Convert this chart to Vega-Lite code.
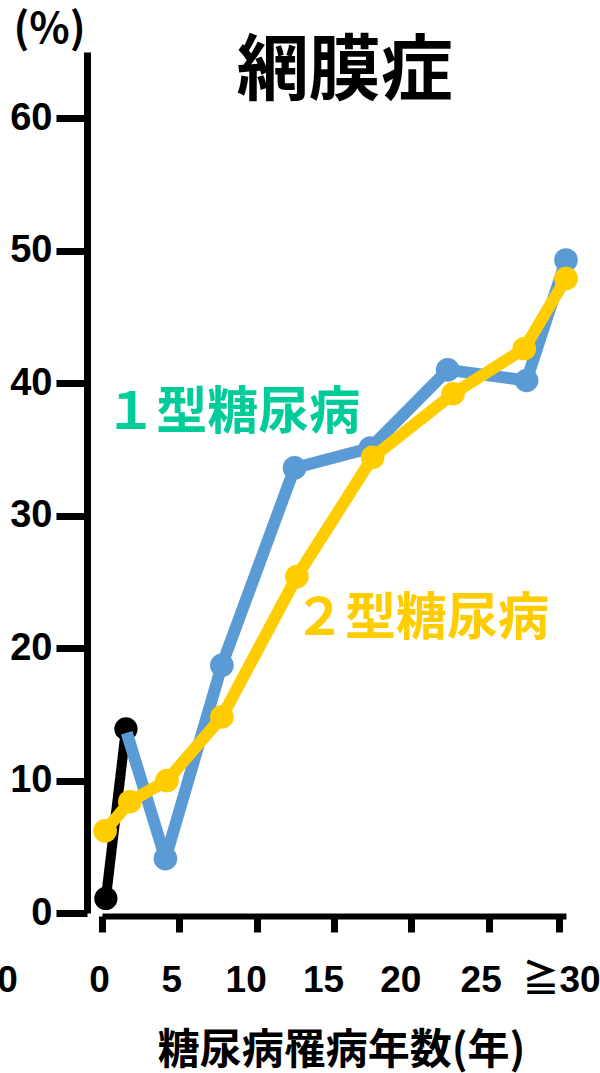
{
  "$schema": "https://vega.github.io/schema/vega-lite/v6.json",
  "width": 464,
  "height": 861,
  "autosize": {"type": "none"},
  "padding": {"left": 102, "top": 52, "right": 34, "bottom": 160},
  "background": "white",
  "config": {"view": {"stroke": null}, "font": "Noto Sans CJK JP"},
  "datasets": {
    "rates": [
      {"group": "early", "x": 0.25, "y": 1.1},
      {"group": "early", "x": 1.55, "y": 13.9},
      {"group": "type1", "x": 1.6, "y": 13.6},
      {"group": "type1", "x": 4.1, "y": 4.1},
      {"group": "type1", "x": 7.75, "y": 18.7},
      {"group": "type1", "x": 12.45, "y": 33.6},
      {"group": "type1", "x": 17.35, "y": 35.1},
      {"group": "type1", "x": 22.35, "y": 41.0},
      {"group": "type1", "x": 27.45, "y": 40.2},
      {"group": "type1", "x": 30.0, "y": 49.3},
      {"group": "type2", "x": 0.2, "y": 6.2},
      {"group": "type2", "x": 1.8, "y": 8.4},
      {"group": "type2", "x": 4.2, "y": 10.0},
      {"group": "type2", "x": 7.75, "y": 14.8},
      {"group": "type2", "x": 12.6, "y": 25.4},
      {"group": "type2", "x": 17.5, "y": 34.4},
      {"group": "type2", "x": 22.7, "y": 39.2},
      {"group": "type2", "x": 27.3, "y": 42.6},
      {"group": "type2", "x": 30.0, "y": 47.9}
    ],
    "notes": [
      {"kind": "series", "label": "１型糖尿病", "x": 8.45, "y": 37.7},
      {"kind": "series", "label": "２型糖尿病", "x": 20.65, "y": 22.1},
      {"kind": "heading", "label": "網膜症", "x": 15.7, "y": 63.5},
      {"kind": "tick", "label": "0", "x": -6.1, "y": -5.1}
    ]
  },
  "data": {"name": "rates"},
  "encoding": {
    "x": {
      "field": "x",
      "type": "quantitative",
      "scale": {"domain": [0, 30], "nice": false, "zero": false},
      "axis": {
        "title": "糖尿病罹病年数(年)",
        "values": [0, 5, 10, 15, 20, 25, 29.55],
        "labelExpr": "datum.value > 29 ? '≧30' : datum.label",
        "grid": false,
        "offset": 3,
        "domainColor": "black",
        "domainWidth": 6,
        "tickColor": "black",
        "tickWidth": 7,
        "tickSize": 16,
        "labelOffset": {
          "condition": [
            {"test": "datum.value == 0", "value": -3},
            {"test": "datum.value == 5 || datum.value == 25", "value": -8},
            {"test": "datum.value > 29", "value": 2}
          ],
          "value": -11
        },
        "labelFont": "Liberation Sans, Noto Sans CJK JP",
        "labelFontSize": 37,
        "labelFontWeight": "bold",
        "labelColor": "black",
        "labelPadding": 30,
        "labelOverlap": false,
        "labelBound": false,
        "labelFlush": false,
        "titleFont": "Noto Sans CJK JP",
        "titleFontSize": 42,
        "titleFontWeight": "bold",
        "titleColor": "black",
        "titleX": 239,
        "titleY": 134,
        "titleAlign": "center",
        "titleBaseline": "middle"
      }
    },
    "y": {
      "field": "y",
      "type": "quantitative",
      "scale": {"domain": [0, 65], "nice": false, "zero": false},
      "axis": {
        "title": "(%)",
        "values": [0, 10, 20, 30, 40, 50, 60],
        "grid": false,
        "offset": 15,
        "domainColor": "black",
        "domainWidth": 7,
        "tickColor": "black",
        "tickWidth": 7,
        "tickSize": 31,
        "labelFont": "Liberation Sans",
        "labelFontSize": 38,
        "labelFontWeight": "bold",
        "labelColor": "black",
        "labelPadding": 4,
        "labelOverlap": false,
        "labelBound": false,
        "titleFont": "Noto Sans CJK JP",
        "titleFontSize": 42,
        "titleFontWeight": "bold",
        "titleColor": "black",
        "titleAngle": 0,
        "titleX": -38,
        "titleY": -23,
        "titleAlign": "center",
        "titleBaseline": "middle"
      }
    }
  },
  "layer": [
    {
      "transform": [{"filter": "datum.group == 'early'"}],
      "mark": {"type": "line", "color": "black", "strokeWidth": 10, "strokeJoin": "round"}
    },
    {
      "transform": [{"filter": "datum.group == 'early'"}],
      "mark": {"type": "point", "shape": "circle", "filled": true, "opacity": 1, "color": "black", "size": 540}
    },
    {
      "transform": [{"filter": "datum.group == 'type1'"}],
      "mark": {"type": "line", "color": "#5B9BD5", "strokeWidth": 12, "strokeJoin": "round"}
    },
    {
      "transform": [{"filter": "datum.group == 'type1' && datum.x > 2"}],
      "mark": {"type": "point", "shape": "circle", "filled": true, "opacity": 1, "color": "#5B9BD5", "size": 560}
    },
    {
      "transform": [{"filter": "datum.group == 'type2'"}],
      "mark": {"type": "line", "color": "#FFCC00", "strokeWidth": 12, "strokeJoin": "round"}
    },
    {
      "transform": [{"filter": "datum.group == 'type2'"}],
      "mark": {"type": "point", "shape": "circle", "filled": true, "opacity": 1, "color": "#FFCC00", "size": 560}
    },
    {
      "data": {"name": "notes"},
      "transform": [{"filter": "datum.kind == 'series'"}],
      "mark": {"type": "text", "font": "Noto Sans CJK JP", "fontSize": 51, "fontWeight": "bold", "align": "center", "baseline": "middle"},
      "encoding": {
        "text": {"field": "label"},
        "color": {
          "field": "label",
          "type": "nominal",
          "scale": {"domain": ["１型糖尿病", "２型糖尿病"], "range": ["#00CC99", "#FFCC00"]},
          "legend": null
        }
      }
    },
    {
      "data": {"name": "notes"},
      "transform": [{"filter": "datum.kind == 'heading'"}],
      "mark": {"type": "text", "font": "Noto Sans CJK JP", "fontSize": 72, "fontWeight": "bold", "color": "black", "align": "center", "baseline": "middle"},
      "encoding": {"text": {"field": "label"}}
    },
    {
      "data": {"name": "notes"},
      "transform": [{"filter": "datum.kind == 'tick'"}],
      "mark": {"type": "text", "font": "Liberation Sans", "fontSize": 37, "fontWeight": "bold", "color": "black", "align": "center", "baseline": "middle"},
      "encoding": {"text": {"field": "label"}}
    }
  ]
}
